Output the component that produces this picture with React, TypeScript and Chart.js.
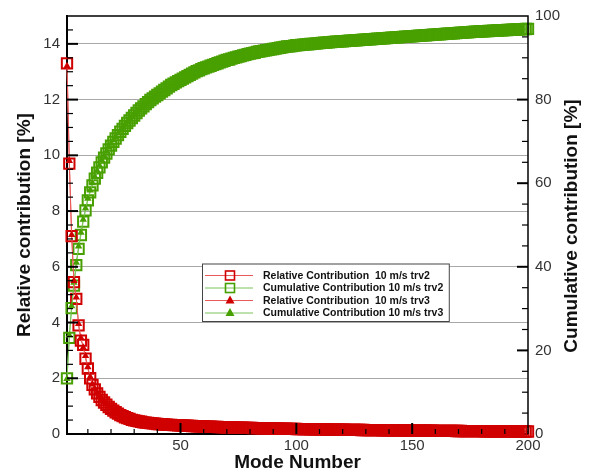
import React, { useEffect, useRef } from "react";
import { Chart, registerables } from "chart.js";

Chart.register(...registerables);

// Relative contribution [%] of each mode, 10 m/s trv2 (left axis)
const trv2Relative = [
  13.3, 9.7, 7.1, 5.45, 4.85, 3.9, 3.35, 3.2, 2.7, 2.35,
  2.0, 1.76, 1.6, 1.46, 1.33, 1.22, 1.13, 1.05, 0.97, 0.9,
  0.84, 0.78, 0.73, 0.68, 0.64, 0.6, 0.57, 0.54, 0.51, 0.49,
  0.47, 0.45, 0.44, 0.42, 0.41, 0.4, 0.39, 0.38, 0.37, 0.36,
  0.355, 0.35, 0.34, 0.335, 0.33, 0.325, 0.32, 0.316, 0.312, 0.308,
  0.303, 0.299, 0.295, 0.29, 0.287, 0.283, 0.279, 0.276, 0.272, 0.269,
  0.266, 0.262, 0.259, 0.256, 0.254, 0.251, 0.248, 0.245, 0.243, 0.24,
  0.237, 0.235, 0.232, 0.23, 0.228, 0.225, 0.223, 0.221, 0.219, 0.217,
  0.214, 0.212, 0.21, 0.208, 0.206, 0.204, 0.202, 0.2, 0.198, 0.197,
  0.195, 0.193, 0.191, 0.19, 0.188, 0.186, 0.185, 0.183, 0.181, 0.18,
  0.178, 0.177, 0.175, 0.174, 0.172, 0.171, 0.17, 0.168, 0.167, 0.165,
  0.164, 0.163, 0.161, 0.16, 0.159, 0.158, 0.156, 0.155, 0.154, 0.153,
  0.152, 0.15, 0.149, 0.148, 0.147, 0.146, 0.145, 0.144, 0.143, 0.142,
  0.141, 0.14, 0.139, 0.138, 0.137, 0.136, 0.135, 0.134, 0.133, 0.132,
  0.131, 0.13, 0.129, 0.128, 0.127, 0.127, 0.126, 0.125, 0.124, 0.123,
  0.122, 0.121, 0.121, 0.12, 0.119, 0.118, 0.117, 0.117, 0.116, 0.115,
  0.114, 0.114, 0.113, 0.112, 0.111, 0.111, 0.11, 0.109, 0.108, 0.108,
  0.107, 0.106, 0.106, 0.105, 0.104, 0.104, 0.103, 0.102, 0.102, 0.101,
  0.1, 0.1, 0.099, 0.098, 0.098, 0.097, 0.097, 0.096, 0.095, 0.095,
  0.094, 0.094, 0.093, 0.092, 0.092, 0.091, 0.091, 0.09, 0.09, 0.089,
];

// Cumulative contribution [%], 10 m/s trv2 (right axis)
const trv2Cumulative = [
  13.3, 23.0, 30.1, 35.5, 40.4, 44.3, 47.6, 50.8, 53.5, 55.9,
  57.8, 59.5, 61.1, 62.5, 63.8, 65.0, 66.1, 67.1, 68.1, 69.0,
  69.9, 70.7, 71.5, 72.3, 73.0, 73.7, 74.4, 75.0, 75.6, 76.2,
  76.8, 77.4, 77.9, 78.4, 78.9, 79.4, 79.9, 80.3, 80.7, 81.1,
  81.5, 81.9, 82.3, 82.7, 83.1, 83.5, 83.8, 84.1, 84.4, 84.7,
  85.0, 85.3, 85.6, 85.9, 86.2, 86.5, 86.8, 87.0, 87.3, 87.5,
  87.7, 87.9, 88.1, 88.3, 88.5, 88.7, 88.9, 89.1, 89.3, 89.5,
  89.6, 89.8, 90.0, 90.1, 90.3, 90.4, 90.6, 90.7, 90.9, 91.0,
  91.1, 91.2, 91.4, 91.5, 91.6, 91.7, 91.8, 91.9, 92.0, 92.1,
  92.2, 92.3, 92.4, 92.5, 92.6, 92.7, 92.75, 92.8, 92.9, 93.0,
  93.05, 93.1, 93.15, 93.2, 93.25, 93.3, 93.35, 93.4, 93.45, 93.5,
  93.55, 93.6, 93.65, 93.7, 93.75, 93.8, 93.84, 93.88, 93.92, 93.96,
  94.0, 94.04, 94.08, 94.12, 94.16, 94.2, 94.24, 94.28, 94.32, 94.36,
  94.4, 94.44, 94.48, 94.52, 94.56, 94.6, 94.64, 94.68, 94.72, 94.76,
  94.8, 94.84, 94.88, 94.92, 94.96, 95.0, 95.04, 95.08, 95.12, 95.16,
  95.2, 95.24, 95.28, 95.32, 95.36, 95.4, 95.44, 95.48, 95.52, 95.56,
  95.6, 95.64, 95.68, 95.72, 95.76, 95.8, 95.84, 95.88, 95.92, 95.96,
  96.0, 96.04, 96.08, 96.12, 96.16, 96.2, 96.23, 96.26, 96.29, 96.32,
  96.35, 96.38, 96.41, 96.44, 96.47, 96.5, 96.53, 96.56, 96.59, 96.62,
  96.65, 96.68, 96.71, 96.74, 96.77, 96.8, 96.83, 96.86, 96.89, 96.92,
];

// trv3 (visible part, first modes)
const trv3Relative = [
  13.2, 9.8, 7.15, 5.5, 4.9, 3.95, 3.45, 3.1, 2.8, 2.4,
  2.05, 1.78, 1.62, 1.47, 1.34, 1.24, 1.15, 1.06, 0.98, 0.91,
  0.84, 0.78, 0.73, 0.68, 0.64, 0.6, 0.57, 0.54, 0.51, 0.49,
  0.47, 0.45, 0.44, 0.43, 0.42, 0.41, 0.4, 0.39, 0.38, 0.37,
];
const trv3Cumulative = [
  13.2, 23.6, 30.6, 36.2, 41.0, 44.9, 48.2, 51.3, 54.0, 56.3,
  58.3, 60.0, 61.6, 63.0, 64.3, 65.5, 66.6, 67.6, 68.6, 69.5,
  70.3, 71.1, 71.9, 72.6, 73.3, 74.0, 74.7, 75.3, 75.9, 76.5,
  77.0, 77.6, 78.1, 78.6, 79.1, 79.6, 80.0, 80.4, 80.8, 81.2,
];

const seriesLabels = [
  "Relative Contribution  10 m/s trv2",
  "Cumulative Contribution 10 m/s trv2",
  "Relative Contribution  10 m/s trv3",
  "Cumulative Contribution 10 m/s trv3",
];

const xTickValues = [50, 100, 150, 200];
const yTickValues = [0, 2, 4, 6, 8, 10, 12, 14];
const y1TickValues = [0, 20, 40, 60, 80, 100];

const RED = "#d00000";
const RED_LINE = "#e85a5a";
const GREEN = "#48a000";
const GREEN_LINE = "#7cc45a";
const FONT = "'Liberation Sans', Arial, Helvetica, sans-serif";

const toPoints = (arr: number[]) => arr.map((v, i) => ({ x: i + 1, y: v }));

const decorPlugin = {
  id: "decor",
  afterDraw(chart: any) {
    const { ctx, chartArea, scales } = chart;
    const { left, right, top, bottom } = chartArea;
    ctx.save();
    ctx.strokeStyle = "#000";
    // frame top & right
    ctx.lineWidth = 1.5;
    ctx.beginPath();
    ctx.moveTo(left, top);
    ctx.lineTo(right, top);
    ctx.lineTo(right, bottom);
    ctx.stroke();

    const seg = (x1: number, y1: number, x2: number, y2: number, w: number) => {
      ctx.lineWidth = w;
      ctx.beginPath();
      ctx.moveTo(x1, y1);
      ctx.lineTo(x2, y2);
      ctx.stroke();
    };
    // x ticks (inward)
    for (let v = 10; v < 200; v += 10) {
      const px = scales.x.getPixelForValue(v);
      if (v % 50 === 0) seg(px, bottom, px, bottom - 11, 2);
      else seg(px, bottom, px, bottom - 5, 1.2);
    }
    // left ticks
    for (let v = 0.5; v < 15; v += 0.5) {
      const py = scales.y.getPixelForValue(v);
      if (v % 2 === 0) seg(left, py, left + 11, py, 2);
      else seg(left, py, left + 6, py, 1.2);
    }
    // right ticks
    for (let v = 5; v < 100; v += 5) {
      const py = scales.y1.getPixelForValue(v);
      if (v % 20 === 0) seg(right, py, right - 11, py, 2);
      else seg(right, py, right - 6, py, 1.2);
    }

    // right title
    ctx.save();
    ctx.translate(572, (top + bottom) / 2 + 1);
    ctx.rotate(-Math.PI / 2);
    ctx.font = `bold 19px ${FONT}`;
    ctx.fillStyle = "#111";
    ctx.textAlign = "center";
    ctx.textBaseline = "middle";
    ctx.fillText("Cumulative contribution [%]", 0, 0);
    ctx.restore();

    // legend
    const rows = [275.5, 288, 300.5, 313];
    const textX = 263;
    ctx.font = `bold 10.5px ${FONT}`;
    let maxW = 0;
    chart.data.datasets.forEach((d: any) => {
      maxW = Math.max(maxW, ctx.measureText(d.label).width);
    });
    const bx = 202.5, by = 264, bw = textX + maxW + 6 - bx, bh = 57.5;
    ctx.fillStyle = "#fff";
    ctx.fillRect(bx, by, bw, bh);
    ctx.strokeStyle = "#444";
    ctx.lineWidth = 1;
    ctx.strokeRect(bx, by, bw, bh);
    chart.data.datasets.forEach((d: any, i: number) => {
      const y = rows[i];
      ctx.strokeStyle = d.borderColor;
      ctx.lineWidth = 1;
      ctx.beginPath();
      ctx.moveTo(205, y);
      ctx.lineTo(253, y);
      ctx.stroke();
      const mx = 230;
      if (d.pointStyle === "rect") {
        ctx.strokeStyle = d.pointBorderColor;
        ctx.lineWidth = 1.6;
        ctx.strokeRect(mx - 4.5, y - 4.5, 9, 9);
      } else {
        ctx.fillStyle = d.pointBackgroundColor;
        ctx.beginPath();
        ctx.moveTo(mx, y - 5);
        ctx.lineTo(mx + 4.5, y + 3);
        ctx.lineTo(mx - 4.5, y + 3);
        ctx.closePath();
        ctx.fill();
      }
      ctx.fillStyle = "#111";
      ctx.textAlign = "left";
      ctx.textBaseline = "middle";
      ctx.fillText(d.label, textX, y + 0.5);
    });
    ctx.restore();
  },
};

export default function App() {
  const ref = useRef<HTMLCanvasElement>(null);
  useEffect(() => {
    document.body.style.margin = "0";
    const canvas = ref.current!;
    const tickFont = { size: 15, family: FONT };
    const chart = new Chart(canvas, {
      type: "line",
      data: {
        datasets: [
          {
            label: seriesLabels[0],
            data: toPoints(trv2Relative),
            yAxisID: "y",
            borderColor: RED_LINE,
            borderWidth: 1,
            pointStyle: "rect",
            pointRadius: 7.3,
            pointBorderColor: RED,
            pointBackgroundColor: "rgba(0,0,0,0)",
            pointBorderWidth: 2,
            order: 3,
            clip: false,
          },
          {
            label: seriesLabels[1],
            data: toPoints(trv2Cumulative),
            yAxisID: "y1",
            borderColor: GREEN_LINE,
            borderWidth: 1,
            pointStyle: "rect",
            pointRadius: 7.3,
            pointBorderColor: GREEN,
            pointBackgroundColor: "rgba(0,0,0,0)",
            pointBorderWidth: 2,
            order: 4,
            clip: false,
          },
          {
            label: seriesLabels[2],
            data: toPoints(trv3Relative),
            yAxisID: "y",
            borderColor: RED_LINE,
            borderWidth: 1,
            pointStyle: "triangle",
            pointRadius: 4.3,
            pointBorderColor: RED,
            pointBackgroundColor: RED,
            pointBorderWidth: 0,
            order: 1,
            clip: false,
          },
          {
            label: seriesLabels[3],
            data: toPoints(trv3Cumulative),
            yAxisID: "y1",
            borderColor: GREEN_LINE,
            borderWidth: 1,
            pointStyle: "triangle",
            pointRadius: 4.3,
            pointBorderColor: GREEN,
            pointBackgroundColor: GREEN,
            pointBorderWidth: 0,
            order: 2,
            clip: false,
          },
        ] as any,
      },
      options: {
        responsive: false,
        animation: false,
        events: [],
        layout: { padding: { top: 15, left: 0, right: 0, bottom: 0 } },
        plugins: { legend: { display: false }, tooltip: { enabled: false } },
        scales: {
          x: {
            type: "linear",
            min: 1,
            max: 200,
            afterBuildTicks: (s: any) => {
              s.ticks = xTickValues.map((v) => ({ value: v }));
            },
            afterFit: (s: any) => {
              s.height = 42;
            },
            grid: { display: false, drawTicks: false },
            border: { display: true, color: "#000", width: 2 },
            ticks: { color: "#333", font: tickFont, padding: 3, maxRotation: 0, autoSkip: false },
            title: {
              display: true,
              text: "Mode Number",
              color: "#111",
              font: { size: 19, weight: "bold", family: FONT },
              padding: { top: 0, bottom: 2 },
            },
          },
          y: {
            type: "linear",
            position: "left",
            min: 0,
            max: 15,
            afterBuildTicks: (s: any) => {
              s.ticks = yTickValues.map((v) => ({ value: v }));
            },
            afterFit: (s: any) => {
              s.width = 67;
            },
            grid: { color: "#a8a8a8", lineWidth: 1, drawTicks: false },
            border: { display: true, color: "#000", width: 2 },
            ticks: { color: "#333", font: tickFont, padding: 7 },
            title: {
              display: true,
              text: "Relative contribution [%]",
              color: "#111",
              font: { size: 19, weight: "bold", family: FONT },
              padding: { top: 13, bottom: 0 },
            },
          },
          y1: {
            type: "linear",
            position: "right",
            min: 0,
            max: 100,
            afterBuildTicks: (s: any) => {
              s.ticks = y1TickValues.map((v) => ({ value: v }));
            },
            afterFit: (s: any) => {
              s.width = 63;
            },
            grid: { display: false, drawTicks: false },
            border: { display: false },
            ticks: { color: "#333", font: tickFont, padding: 7 },
          },
        },
      } as any,
      plugins: [decorPlugin],
    });
    return () => chart.destroy();
  }, []);
  return <canvas ref={ref} width={591} height={476} style={{ display: "block" }} />;
}
